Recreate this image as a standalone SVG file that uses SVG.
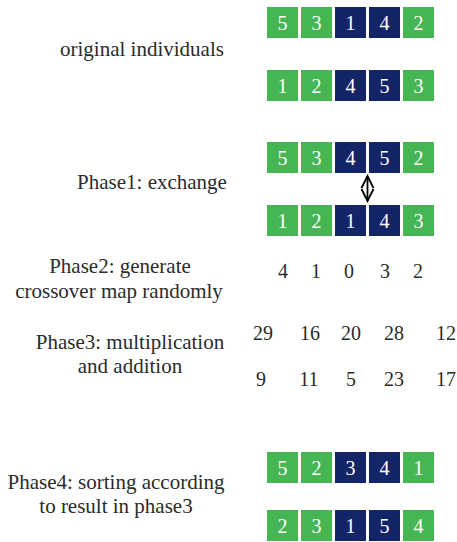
<svg xmlns="http://www.w3.org/2000/svg" width="457" height="542" viewBox="0 0 457 542">
  <style>
    text { font-family: "Liberation Serif", "Times New Roman", serif; }
    .lbl { font-size: 21px; fill: #2b2b2b; text-anchor: middle; }
    .num { font-size: 20px; fill: #2b2b2b; text-anchor: middle; }
    .g { fill: #46b553; }
    .b { fill: #132567; }
    .cell text { font-size: 20px; fill: #ffffff; text-anchor: middle; }
  </style>
  <defs>
    <rect id="box" width="31" height="31"/>
  </defs>
  <rect width="457" height="542" fill="#ffffff"/>

  <!-- labels -->
  <g id="label-original"><text class="lbl" x="142" y="56">original individuals</text></g>
  <g id="label-phase1"><text class="lbl" x="152" y="189">Phase1: exchange</text></g>
  <g id="label-phase2">
    <text class="lbl" x="120" y="273">Phase2: generate</text>
    <text class="lbl" x="119" y="298">crossover map randomly</text>
  </g>
  <g id="label-phase3">
    <text class="lbl" x="130" y="349">Phase3: multiplication</text>
    <text class="lbl" x="130" y="373">and addition</text>
  </g>
  <g id="label-phase4">
    <text class="lbl" x="116" y="489">Phase4: sorting according</text>
    <text class="lbl" x="116" y="513">to result in phase3</text>
  </g>

  <!-- original individuals -->
  <g id="row-orig-1" class="cell">
    <use href="#box" class="g" x="267" y="7"/><text x="282.5" y="30">5</text>
    <use href="#box" class="g" x="301" y="7"/><text x="316.5" y="30">3</text>
    <use href="#box" class="b" x="335" y="7"/><text x="350.5" y="30">1</text>
    <use href="#box" class="b" x="369" y="7"/><text x="384.5" y="30">4</text>
    <use href="#box" class="g" x="403" y="7"/><text x="418.5" y="30">2</text>
  </g>
  <g id="row-orig-2" class="cell">
    <use href="#box" class="g" x="267" y="70"/><text x="282.5" y="93">1</text>
    <use href="#box" class="g" x="301" y="70"/><text x="316.5" y="93">2</text>
    <use href="#box" class="b" x="335" y="70"/><text x="350.5" y="93">4</text>
    <use href="#box" class="b" x="369" y="70"/><text x="384.5" y="93">5</text>
    <use href="#box" class="g" x="403" y="70"/><text x="418.5" y="93">3</text>
  </g>

  <!-- phase 1: after exchange -->
  <g id="row-p1-1" class="cell">
    <use href="#box" class="g" x="267" y="142"/><text x="282.5" y="165">5</text>
    <use href="#box" class="g" x="301" y="142"/><text x="316.5" y="165">3</text>
    <use href="#box" class="b" x="335" y="142"/><text x="350.5" y="165">4</text>
    <use href="#box" class="b" x="369" y="142"/><text x="384.5" y="165">5</text>
    <use href="#box" class="g" x="403" y="142"/><text x="418.5" y="165">2</text>
  </g>
  <g id="row-p1-2" class="cell">
    <use href="#box" class="g" x="267" y="205"/><text x="282.5" y="228">1</text>
    <use href="#box" class="g" x="301" y="205"/><text x="316.5" y="228">2</text>
    <use href="#box" class="b" x="335" y="205"/><text x="350.5" y="228">1</text>
    <use href="#box" class="b" x="369" y="205"/><text x="384.5" y="228">4</text>
    <use href="#box" class="g" x="403" y="205"/><text x="418.5" y="228">3</text>
  </g>

  <!-- double-headed exchange arrow -->
  <g id="connectors" fill="none" stroke="#000000" stroke-width="1.8" stroke-linejoin="miter">
    <path d="M367.5 176 V201"/>
    <path d="M361.5 188 L367.5 176 L373.5 188"/>
    <path d="M361.5 189 L367.5 201 L373.5 189"/>
  </g>

  <!-- phase 2: crossover map -->
  <g id="row-p2">
    <text class="num" x="283" y="278">4</text>
    <text class="num" x="316" y="278">1</text>
    <text class="num" x="349" y="278">0</text>
    <text class="num" x="385" y="278">3</text>
    <text class="num" x="418" y="278">2</text>
  </g>

  <!-- phase 3: weighted sums -->
  <g id="row-p3-1">
    <text class="num" x="263" y="340">29</text>
    <text class="num" x="310" y="340">16</text>
    <text class="num" x="351" y="340">20</text>
    <text class="num" x="394" y="340">28</text>
    <text class="num" x="446" y="340">12</text>
  </g>
  <g id="row-p3-2">
    <text class="num" x="261" y="386">9</text>
    <text class="num" x="309" y="386">11</text>
    <text class="num" x="351" y="386">5</text>
    <text class="num" x="394" y="386">23</text>
    <text class="num" x="446" y="386">17</text>
  </g>

  <!-- phase 4: sorted offspring -->
  <g id="row-p4-1" class="cell">
    <use href="#box" class="g" x="267" y="452"/><text x="282.5" y="475">5</text>
    <use href="#box" class="g" x="301" y="452"/><text x="316.5" y="475">2</text>
    <use href="#box" class="b" x="335" y="452"/><text x="350.5" y="475">3</text>
    <use href="#box" class="b" x="369" y="452"/><text x="384.5" y="475">4</text>
    <use href="#box" class="g" x="403" y="452"/><text x="418.5" y="475">1</text>
  </g>
  <g id="row-p4-2" class="cell">
    <use href="#box" class="g" x="267" y="510"/><text x="282.5" y="533">2</text>
    <use href="#box" class="g" x="301" y="510"/><text x="316.5" y="533">3</text>
    <use href="#box" class="b" x="335" y="510"/><text x="350.5" y="533">1</text>
    <use href="#box" class="b" x="369" y="510"/><text x="384.5" y="533">5</text>
    <use href="#box" class="g" x="403" y="510"/><text x="418.5" y="533">4</text>
  </g>
</svg>
